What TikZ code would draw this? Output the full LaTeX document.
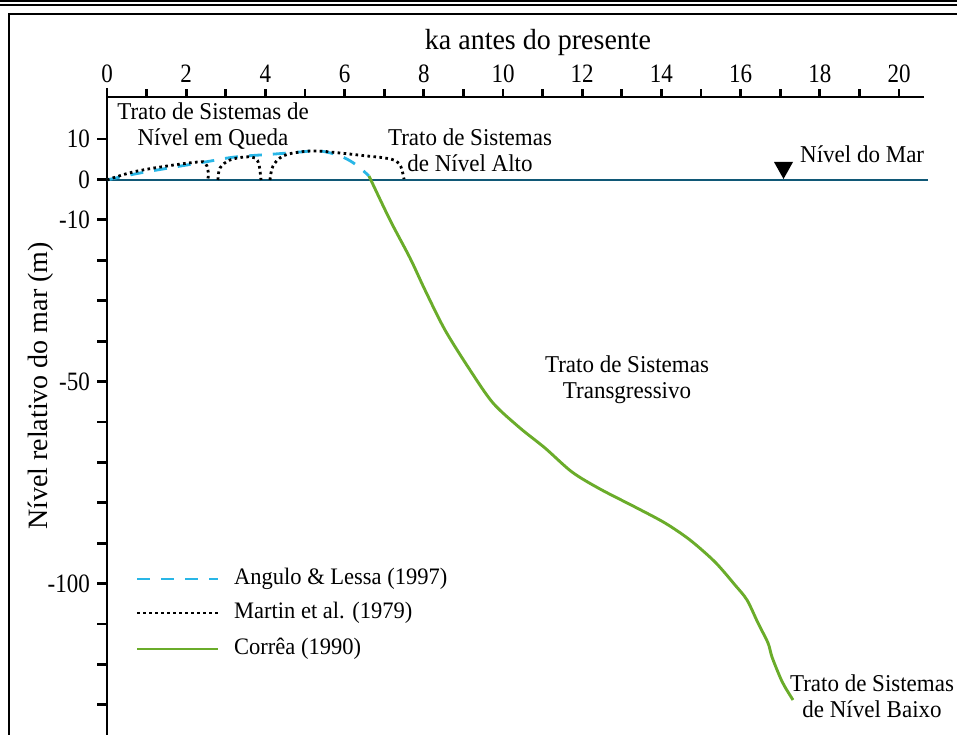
\documentclass[tikz,border=0pt]{standalone}
\usepackage{fontspec}
\setmainfont{Liberation Serif}
\definecolor{sealine}{RGB}{16,88,118}
\definecolor{anguloblue}{RGB}{41,182,230}
\definecolor{correagreen}{RGB}{106,172,42}
\begin{document}
\begin{tikzpicture}[x=1pt,y=-1pt,
  axisline/.style={line width=2.8pt},
  axtick/.style={line width=2.8pt},
  ticklabel/.style={inner sep=0pt,xscale=0.92,yscale=1.06,font=\fontsize{25}{28}\selectfont},
  tract/.style={align=center,inner sep=0pt,yscale=1.05,font=\fontsize{23}{25}\selectfont},
  legendtext/.style={anchor=west,inner sep=0pt,yscale=1.05,font=\fontsize{22.5}{26}\selectfont},
  angulo/.style={anguloblue,line width=2.8pt,dash pattern=on 13pt off 11pt},
  martin/.style={black,line width=2.8pt,dash pattern=on 2.6pt off 3.4pt},
  correa/.style={correagreen,line width=2.9pt}]
\useasboundingbox (0,0) rectangle (957,735);

% double rule and frame
\fill (0,0) rectangle (957,2);
\fill (0,3.8) rectangle (957,6.4);
\draw[line width=2.4pt] (9,735) -- (9,13.8) -- (957,13.8);

% axes
\coordinate (origin) at (107,97);
\coordinate (xend) at (924,97);
\coordinate (yend) at (107,735);
\draw[axisline] (xend) -- (origin) -- (yend);
\draw[axtick] (107,88) -- (origin);

% time axis ticks and labels
\foreach \k in {1,...,20} \draw[axtick] (107+39.6*\k,97) -- (107+39.6*\k,89);
\foreach \k in {0,2,...,20} \node[ticklabel,anchor=base] (t\k) at (107+39.6*\k,83) {\k};
\node[inner sep=0pt,anchor=base,yscale=1.04,font=\fontsize{28}{30}\selectfont] (xtitle) at (538,50) {ka antes do presente};

% sea-level axis ticks and labels
\foreach \m in {10,0,-10,-20,...,-130} \draw[axtick] (97,179.5-4.04*\m) -- (107,179.5-4.04*\m);
\foreach \m/\n in {10/p10,0/z0,-10/m10,-50/m50,-100/m100}
  \node[ticklabel,anchor=east] (\n) at (90,179.5-4.04*\m) {\m};
\node[rotate=90,inner sep=0pt,font=\fontsize{28}{30}\selectfont] (ytitle) at (41,386) {Nível relativo do mar (m)};

% present sea level
\coordinate (sl0) at (107,180);
\coordinate (sl1) at (928,180);
\draw[sealine,line width=2.7pt] (sl0) -- (sl1);
\fill (774,162) -- (793,162) -- (783.5,179) -- cycle;
\node[anchor=base west,inner sep=0pt,yscale=1.05,font=\fontsize{23}{26}\selectfont] (nm) at (800,163) {Nível do Mar};

% Angulo & Lessa (1997)
\draw[angulo] plot[smooth,tension=0.6] coordinates
  {(107,180) (140,173) (205,162) (235,157) (275,154) (300,152) (320,151) (340,156) (355,164) (369,176)};

% Martin et al. (1979)
\draw[martin] plot[smooth,tension=0.6] coordinates
  {(107,180) (133,172) (167,166) (198,162) (205,163) (208,170) (208,180)};
\draw[martin] plot[smooth,tension=0.6] coordinates
  {(218,180) (220,168) (230,160) (245,157) (255,158) (259,165) (261,180)};
\draw[martin] plot[smooth,tension=0.6] coordinates
  {(270,180) (273,166) (283,156) (300,152) (317,151) (340,153) (367,156) (385,158) (396,161) (401,167) (404,179)};

% Correa (1990)
\draw[correa] plot[smooth,tension=0.5] coordinates
  {(369,176) (390,220) (410,258) (425,290) (445,330) (470,370) (493,403) (520,428) (545,448) (572,472) (600,489) (635,507) (665,523) (690,540) (715,562) (735,585) (747,600) (758,623) (768,643) (772,657) (780,677) (785,687) (793,700)};

% systems tract labels
\node[tract] (queda) at (213,126) {Trato de Sistemas de\\Nível em Queda};
\node[tract] (alto) at (470,150) {Trato de Sistemas\\de Nível Alto};
\node[tract] (transg) at (627,380) {Trato de Sistemas\\Transgressivo};
\node[tract] (baixo) at (872,696) {Trato de Sistemas\\de Nível Baixo};

% legend
\coordinate (la0) at (137,579); \coordinate (la1) at (218,579);
\coordinate (lm0) at (137,613); \coordinate (lm1) at (218,613);
\coordinate (lc0) at (137,649); \coordinate (lc1) at (218,649);
\draw[angulo] (la0) -- (la1);
\draw[martin] (lm0) -- (lm1);
\draw[correa] (lc0) -- (lc1);
\node[legendtext] (leg1) at (234,579) {Angulo \& Lessa (1997)};
\node[legendtext] (leg2) at (234,613) {Martin et al. (1979)};
\node[legendtext] (leg3) at (234,649) {Corrêa (1990)};
\end{tikzpicture}
\end{document}
